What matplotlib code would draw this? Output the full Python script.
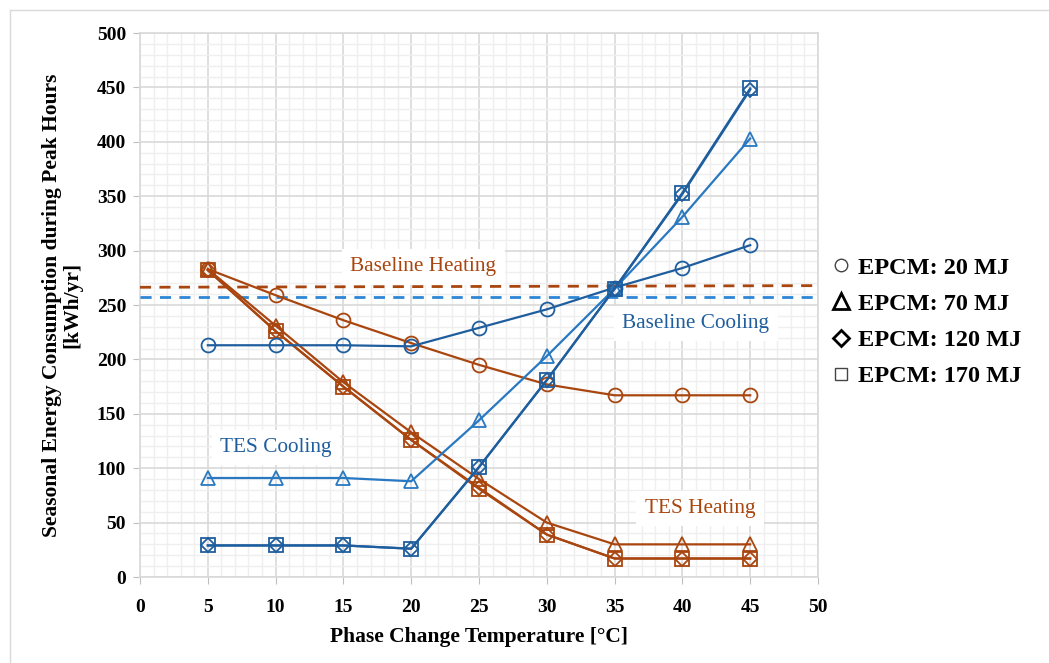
import matplotlib.pyplot as plt
import numpy as np
from matplotlib.lines import Line2D
from matplotlib.ticker import MultipleLocator

plt.rcParams['font.family'] = ['Liberation Serif', 'DejaVu Serif']

# phase change temperature [C]
temp = [5, 10, 15, 20, 25, 30, 35, 40, 45]

# TES cooling
cool_20 = [213, 213, 213, 212, 229, 246, 266, 284, 305]
cool_70 = [91, 91, 91, 88, 144, 203, 265, 331, 403]
cool_120 = [29, 29, 29, 26, 101, 181, 265, 352, 448]
cool_170 = [29, 29, 29, 26, 101, 181, 265, 353, 449]

# TES heating
heat_20 = [283, 259, 236, 215, 195, 177, 167, 167, 167]
heat_70 = [283, 231, 179, 133, 90, 50, 30, 30, 30]
heat_120 = [282, 226, 175, 126, 82, 39, 17, 17, 17]
heat_170 = [282, 226, 175, 126, 81, 39, 17, 17, 17]

# baselines
base_x = [0, 50]
base_heat = [266.3, 267.8]
base_cool = [256.9, 256.9]

brown = '#A9460F'
blue_dark = '#1F5E9E'
blue_mid = '#2878C2'
blue_base = '#2E86D6'

fig = plt.figure(figsize=(10.49, 6.63), dpi=100)
ax = fig.add_axes([140/1049, 86/663, 678/1049, 544/663])

# outer frame (top / left only visible)
fig.add_artist(Line2D([10/1049, 1.0], [1-10/663, 1-10/663], color='#d9d9d9', lw=1))
fig.add_artist(Line2D([10/1049, 10/1049], [0, 1-10/663], color='#d9d9d9', lw=1))

ax.plot(base_x, base_heat, color=brown, ls=(0, (4, 3)), lw=2, zorder=3)
ax.plot(base_x, base_cool, color=blue_base, ls=(0, (4, 3)), lw=2, zorder=3)

mk = dict(markerfacecolor='none', markersize=10, markeredgewidth=1.3, zorder=4)
ax.plot(temp, heat_20, color=brown, marker='o', lw=1.6, **mk)
ax.plot(temp, heat_70, color=brown, marker='^', lw=1.6, **mk)
ax.plot(temp, heat_120, color=brown, marker='D', lw=1.6, **dict(mk, markersize=7.5))
ax.plot(temp, heat_170, color=brown, marker='s', lw=1.6, **mk)

ax.plot(temp, cool_20, color=blue_dark, marker='o', lw=1.6, **mk)
ax.plot(temp, cool_70, color=blue_mid, marker='^', lw=1.6, **mk)
ax.plot(temp, cool_120, color=blue_dark, marker='D', lw=1.6, **dict(mk, markersize=7.5))
ax.plot(temp, cool_170, color=blue_dark, marker='s', lw=1.6, **mk)

ax.set_xlim(0, 50)
ax.set_ylim(0, 500)
ax.xaxis.set_major_locator(MultipleLocator(5))
ax.yaxis.set_major_locator(MultipleLocator(50))
ax.xaxis.set_minor_locator(MultipleLocator(1))
ax.yaxis.set_minor_locator(MultipleLocator(10))
ax.grid(which='major', color='#d9d9d9', lw=1.2, zorder=0)
ax.grid(which='minor', color='#efefef', lw=1.0, zorder=0)
ax.set_axisbelow(True)
for s in ax.spines.values():
    s.set_color('#d9d9d9')
    s.set_linewidth(1.2)
ax.tick_params(which='major', length=5, color='#bfbfbf', labelsize=14, pad=5)
ax.tick_params(axis='x', pad=11)
ax.tick_params(which='minor', length=0)
for lab in ax.get_xticklabels() + ax.get_yticklabels():
    lab.set_fontweight('bold')

ax.set_xlabel('Phase Change Temperature [°C]', fontsize=15.5, fontweight='bold', labelpad=8)
ax.set_ylabel('Seasonal Energy Consumption during Peak Hours\n[kWh/yr]', fontsize=15.5,
              fontweight='bold', labelpad=10, linespacing=1.05)

box = dict(facecolor='white', edgecolor='none', pad=6)
ax.text(20.9, 285, 'Baseline Heating', color=brown, fontsize=15.3, ha='center', va='center', bbox=box)
ax.text(41.0, 233, 'Baseline Cooling', color=blue_dark, fontsize=15.3, ha='center', va='center', bbox=box)
ax.text(10.0, 119, 'TES Cooling', color=blue_dark, fontsize=15.3, ha='center', va='center', bbox=box)
ax.text(41.3, 63, 'TES Heating', color=brown, fontsize=15.3, ha='center', va='center', bbox=box)

handles = [
    Line2D([], [], ls='none', marker='o', color='#444444', markerfacecolor='none', markersize=9),
    Line2D([], [], ls='none', marker='^', color='black', markerfacecolor='none', markersize=12, markeredgewidth=2),
    Line2D([], [], ls='none', marker='D', color='black', markerfacecolor='none', markersize=8, markeredgewidth=2),
    Line2D([], [], ls='none', marker='s', color='#444444', markerfacecolor='none', markersize=9),
]
labels = ['EPCM: 20 MJ', 'EPCM: 70 MJ', 'EPCM: 120 MJ', 'EPCM: 170 MJ']
fig.legend(handles, labels, loc='center left', bbox_to_anchor=(822/1049, 1-322/663),
           frameon=False, prop={'weight': 'bold', 'size': 17.5}, handlelength=0.8,
           handletextpad=0.3, labelspacing=0.58, borderaxespad=0)

fig.savefig('out.png', dpi=100)
